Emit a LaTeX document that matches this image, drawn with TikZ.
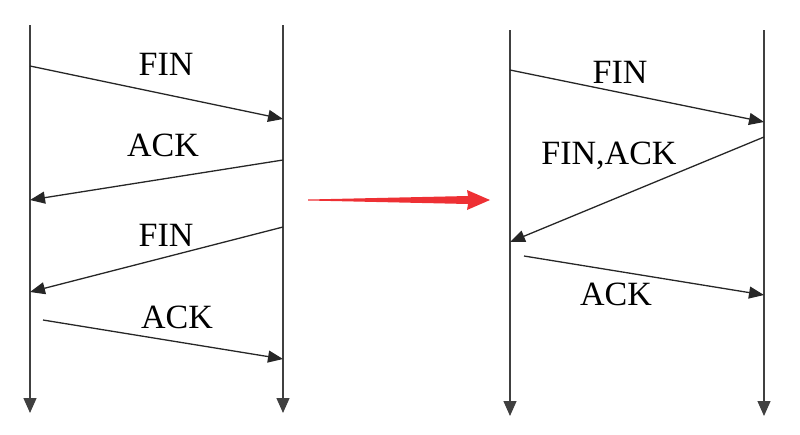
\documentclass[tikz,border=0pt]{standalone}
\usepackage{fontspec}
\setmainfont{Liberation Serif}
\usetikzlibrary{arrows.meta}
\definecolor{arrowred}{RGB}{238,48,52}
\begin{document}
\begin{tikzpicture}[x=1pt, y=-1pt, line width=1.3pt,
        every node/.style={font=\fontsize{34}{39}\selectfont, inner sep=0pt},
        lifeline/.style={draw=black!75, -{Triangle[length=15pt,width=13pt]}},
        msg/.style={draw=black!85, -{Triangle[length=15pt,width=12pt]}}]
        \useasboundingbox (0,0) rectangle (800,434);
        % the four time lines
        \foreach \n/\x/\t/\b in {a/30/25/413,b/283/25/413,c/510/30/416,d/764/30/416} {
            \coordinate (\n top) at (\x,\t);
            \coordinate (\n bot) at (\x,\b);
            \draw[lifeline] (\n top) -- (\n bot);
        }
        % left: four-way close
        \coordinate (a1) at (30,66);  \coordinate (b1) at (283,119);
        \coordinate (b2) at (283,160); \coordinate (a2) at (30,200);
        \coordinate (b3) at (283,227); \coordinate (a3) at (30,292);
        \coordinate (a4) at (43,320);  \coordinate (b4) at (283,359);
        \draw[msg] (a1) -- (b1);
        \draw[msg] (b2) -- (a2);
        \draw[msg] (b3) -- (a3);
        \draw[msg] (a4) -- (b4);
        \node (finA) at (166,64) {FIN};
        \node (ackA) at (163,145) {ACK};
        \node (finB) at (166,235) {FIN};
        \node (ackB) at (177,317) {ACK};
        % right: three-way close
        \coordinate (c1) at (510,70);  \coordinate (d1) at (764,122);
        \coordinate (d2) at (764,137); \coordinate (c2) at (510,242);
        \coordinate (c3) at (524,256); \coordinate (d3) at (764,295);
        \draw[msg] (c1) -- (d1);
        \draw[msg] (d2) -- (c2);
        \draw[msg] (c3) -- (d3);
        \node (finC) at (620,72) {FIN};
        \node[anchor=base] (finack) at (609,164) {FIN,ACK};
        \node (ackC) at (616,294) {ACK};
        % red arrow in between
        \fill[arrowred] (308,199.5) -- (468,196) -- (467,190) -- (490,200)
            -- (467,210) -- (468,204) -- (308,200.5) -- cycle;
    \end{tikzpicture}
\end{document}
